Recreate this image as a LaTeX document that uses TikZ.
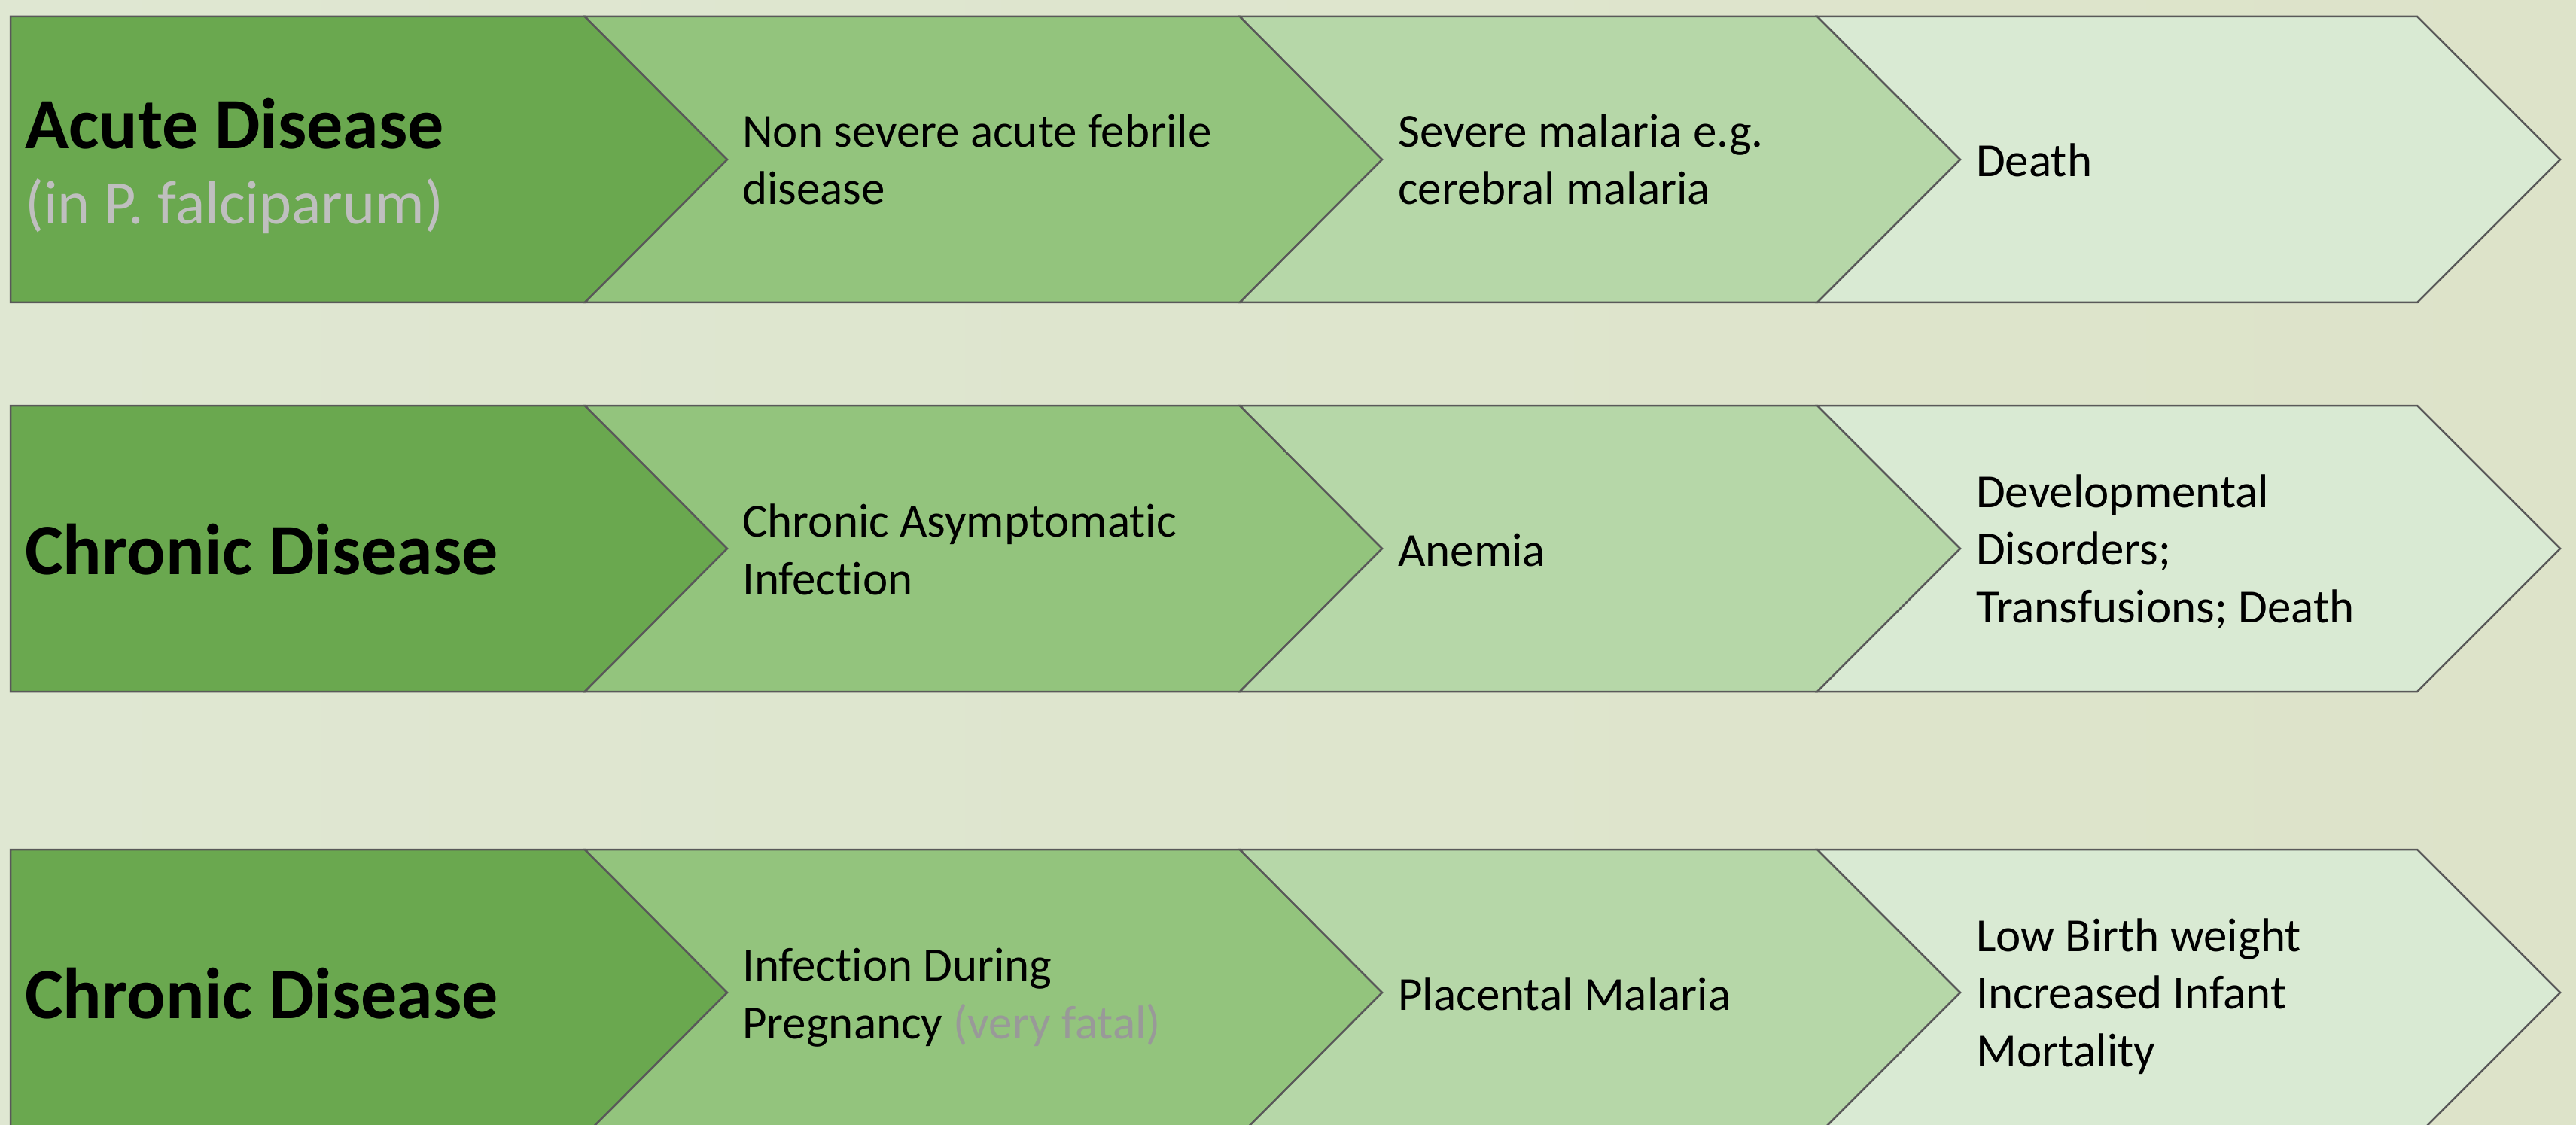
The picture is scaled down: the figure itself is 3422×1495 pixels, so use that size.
\documentclass[tikz,border=0pt]{standalone}
\usepackage{fontspec}
\setmainfont{Carlito}[Ligatures=NoCommon]
\definecolor{bgL}{HTML}{DFE7D2}
\definecolor{bgR}{HTML}{DDE3C9}
\definecolor{g1}{HTML}{6AA84F}
\definecolor{g2}{HTML}{93C47D}
\definecolor{g3}{HTML}{B6D7A8}
\definecolor{g4}{HTML}{D9EAD3}
\definecolor{edge}{HTML}{595959}
\definecolor{subgray}{HTML}{BFBFBF}
\definecolor{notegray}{HTML}{999999}
\tikzset{
  shp/.style={draw=edge, line width=2.5pt, line join=miter},
  titletext/.style={anchor=base west, inner sep=0pt, font=\fontsize{96}{116}\selectfont\bfseries},
  subtext/.style={anchor=base west, inner sep=0pt, text=subgray, font=\fontsize{82}{98}\selectfont},
  bodytext/.style={anchor=base west, inner sep=0pt, align=left, font=\fontsize{63}{76.5}\selectfont}
}
\newcommand\chevrow[1]{%
  \pgfmathsetmacro\rt{#1-190}\pgfmathsetmacro\rb{#1+190}%
  \filldraw[shp, fill=g1] (14,\rt) -- (777,\rt) -- (966,#1) -- (777,\rb) -- (14,\rb) -- cycle;
  \filldraw[shp, fill=g2] (777,\rt) -- (1647,\rt) -- (1836,#1) -- (1647,\rb) -- (777,\rb) -- (966,#1) -- cycle;
  \filldraw[shp, fill=g3] (1647,\rt) -- (2414,\rt) -- (2604,#1) -- (2414,\rb) -- (1647,\rb) -- (1836,#1) -- cycle;
  \filldraw[shp, fill=g4] (2414,\rt) -- (3211,\rt) -- (3401,#1) -- (3211,\rb) -- (2414,\rb) -- (2604,#1) -- cycle;
}
\begin{document}
\begin{tikzpicture}[x=1pt, y=-1pt]
\useasboundingbox (0,0) rectangle (3422,1495);
\clip (0,0) rectangle (3422,1495);
\shade[left color=bgL, right color=bgR] (0,0) rectangle (3422,1495);
\chevrow{212}
\chevrow{729}
\chevrow{1319}
% row 1 (anchor = baseline of the last line)
\node[titletext] (t1) at (33,198) {Acute Disease};
\node[subtext] (s1) at (33,298) {(in P. falciparum)};
\node[bodytext] (a2) at (986,272) {Non severe acute febrile\\disease};
\node[bodytext] (a3) at (1857,272) {Severe malaria e.g.\\cerebral malaria};
\node[bodytext] (a4) at (2625,235) {Death};
% row 2
\node[titletext] (t2) at (33,763) {Chronic Disease};
\node[bodytext] (b2) at (986,790) {Chronic Asymptomatic\\Infection};
\node[bodytext] (b3) at (1857,752) {Anemia};
\node[bodytext] (b4) at (2625,827) {Developmental\\Disorders;\\Transfusions; Death};
% row 3
\node[titletext] (t3) at (33,1353) {Chronic Disease};
\node[bodytext] (c2) at (986,1380) {Infection During\\Pregnancy {\color{notegray}(very fatal)}};
\node[bodytext] (c3) at (1857,1342) {Placental Malaria};
\node[bodytext] (c4) at (2625,1417) {Low Birth weight\\Increased Infant\\Mortality};
\end{tikzpicture}
\end{document}
